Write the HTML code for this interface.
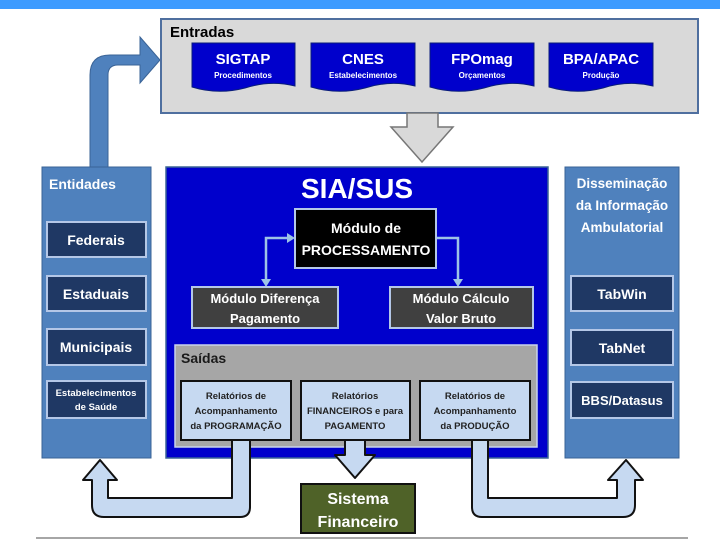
<!DOCTYPE html>
<html><head><meta charset="utf-8"><style>
html,body{margin:0;padding:0;background:#fff}
svg{display:block}
text{font-family:"Liberation Sans",sans-serif;font-weight:bold}
</style></head><body>
<svg width="720" height="540" viewBox="0 0 720 540" xmlns="http://www.w3.org/2000/svg">
<rect x="0" y="0" width="720" height="9" fill="#3d9bff"/>
<line x1="36" y1="538" x2="688" y2="538" stroke="#888" stroke-width="1.5"/>

<!-- up arrow from Entidades -->
<path d="M90,167 L90,75 Q90,55 110,55 L140,55 L140,37 L160,60 L140,83 L140,65 L118,65 Q108,65 108,75 L108,167 Z" fill="#4f81bd" stroke="#3a6396" stroke-width="1"/>

<!-- Entradas -->
<rect x="161" y="19" width="537" height="94" fill="#d9d9d9" stroke="#4f6f9f" stroke-width="2"/>
<text x="170" y="37" font-size="15" fill="#000" font-weight="bold">Entradas</text>
<g fill="#0000cc" stroke="#0a1d7a" stroke-width="1">
<path d="M192,43 H295 V86 Q270,80 245,88 Q218,95 192,87 Z"/>
<path d="M311,43 H415 V86 Q390,80 365,88 Q338,95 311,87 Z"/>
<path d="M430,43 H534 V86 Q509,80 484,88 Q457,95 430,87 Z"/>
<path d="M549,43 H653 V86 Q628,80 603,88 Q576,95 549,87 Z"/>
</g>
<g fill="#fff" text-anchor="middle">
<text x="243" y="64" font-size="15">SIGTAP</text><text x="243" y="78" font-size="8">Procedimentos</text>
<text x="363" y="64" font-size="15">CNES</text><text x="363" y="78" font-size="8">Estabelecimentos</text>
<text x="482" y="64" font-size="15">FPOmag</text><text x="482" y="78" font-size="8">Orçamentos</text>
<text x="601" y="64" font-size="15">BPA/APAC</text><text x="601" y="78" font-size="8">Produção</text>
</g>
<!-- down arrow -->
<path d="M407,113 L438,113 L438,127 L453,127 L422,162 L391,127 L407,127 Z" fill="#d9d9d9" stroke="#777" stroke-width="1.5"/>

<!-- Entidades -->
<rect x="42" y="167" width="109" height="291" fill="#4f81bd" stroke="#3a6396"/>
<text x="49" y="189" font-size="14" fill="#fff">Entidades</text>
<g fill="#1f3864" stroke="#b4c7e7" stroke-width="2">
<rect x="47" y="222" width="99" height="35"/>
<rect x="47" y="276" width="99" height="35"/>
<rect x="47" y="329" width="99" height="36"/>
<rect x="47" y="381" width="99" height="37"/>
</g>
<g fill="#fff" text-anchor="middle">
<text x="96" y="245" font-size="14">Federais</text>
<text x="96" y="299" font-size="14">Estaduais</text>
<text x="96" y="352" font-size="14">Municipais</text>
<text x="96" y="396" font-size="9.5">Estabelecimentos</text>
<text x="96" y="410" font-size="9.5">de Saúde</text>
</g>

<!-- Disseminação -->
<rect x="565" y="167" width="114" height="291" fill="#4f81bd" stroke="#3a6396"/>
<g fill="#fff" text-anchor="middle" font-size="13.5">
<text x="622" y="188">Disseminação</text>
<text x="622" y="210">da Informação</text>
<text x="622" y="232">Ambulatorial</text>
</g>
<g fill="#1f3864" stroke="#b4c7e7" stroke-width="2">
<rect x="571" y="276" width="102" height="35"/>
<rect x="571" y="330" width="102" height="35"/>
<rect x="571" y="382" width="102" height="36"/>
</g>
<g fill="#fff" text-anchor="middle">
<text x="622" y="299" font-size="14">TabWin</text>
<text x="622" y="353" font-size="14">TabNet</text>
<text x="622" y="405" font-size="13">BBS/Datasus</text>
</g>

<!-- SIA/SUS -->
<rect x="166" y="167" width="382" height="291" fill="#0000cc" stroke="#3a6396" stroke-width="1.5"/>
<text x="357" y="198" font-size="28" fill="#fff" text-anchor="middle">SIA/SUS</text>
<g stroke="#9dc3e6" stroke-width="2.5" fill="none">
<path d="M291,238 H266 V283"/>
<path d="M437,238 H458 V283"/>
</g>
<g fill="#9dc3e6">
<path d="M295,238 L287,233 L287,243 Z"/>
<path d="M266,287 L261,279 L271,279 Z"/>
<path d="M458,287 L453,279 L463,279 Z"/>
</g>
<rect x="295" y="209" width="141" height="59" fill="#000" stroke="#b4c7e7" stroke-width="2"/>
<text x="366" y="233" font-size="14" fill="#fff" text-anchor="middle">Módulo de</text>
<text x="366" y="255" font-size="14" fill="#fff" text-anchor="middle">PROCESSAMENTO</text>
<rect x="192" y="287" width="146" height="41" fill="#404040" stroke="#b4c7e7" stroke-width="2"/>
<rect x="390" y="287" width="143" height="41" fill="#404040" stroke="#b4c7e7" stroke-width="2"/>
<g fill="#fff" text-anchor="middle" font-size="13">
<text x="265" y="303">Módulo Diferença</text><text x="265" y="323">Pagamento</text>
<text x="461" y="303">Módulo Cálculo</text><text x="461" y="323">Valor Bruto</text>
</g>

<!-- Saídas -->
<rect x="175" y="345" width="362" height="102" fill="#a6a6a6" stroke="#c9d3ea" stroke-width="1.5"/>
<text x="181" y="363" font-size="14" fill="#1a1a1a">Saídas</text>
<g fill="#c6d9f1" stroke="#111" stroke-width="2">
<rect x="181" y="381" width="110" height="59"/>
<rect x="301" y="381" width="109" height="59"/>
<rect x="420" y="381" width="110" height="59"/>
</g>
<g fill="#222" text-anchor="middle" font-size="9.5">
<text x="236" y="399">Relatórios de</text><text x="236" y="414">Acompanhamento</text><text x="236" y="429">da PROGRAMAÇÃO</text>
<text x="355" y="399">Relatórios</text><text x="355" y="414">FINANCEIROS e para</text><text x="355" y="429">PAGAMENTO</text>
<text x="475" y="399">Relatórios de</text><text x="475" y="414">Acompanhamento</text><text x="475" y="429">da PRODUÇÃO</text>
</g>

<!-- bottom arrows -->
<g fill="#c6d9f1" stroke="#111" stroke-width="2" stroke-linejoin="round">
<path d="M232,441 L232,498 L108,498 L108,480 L117,480 L100,460 L83,480 L92,480 L92,505 Q92,517 104,517 L240,517 Q250,517 250,507 L250,441"/>
<path d="M472,441 L472,507 Q472,517 482,517 L623,517 Q635,517 635,505 L635,480 L643,480 L626,460 L608,480 L617,480 L617,498 L488,498 L488,441"/>
<path d="M345,441 L345,455 L335,455 L355,478 L375,455 L365,455 L365,441"/>
</g>

<!-- Sistema Financeiro -->
<rect x="301" y="484" width="114" height="49" fill="#4f6228" stroke="#111" stroke-width="2"/>
<text x="358" y="504" font-size="16" fill="#fff" text-anchor="middle">Sistema</text>
<text x="358" y="527" font-size="16" fill="#fff" text-anchor="middle">Financeiro</text>
</svg>
</body></html>
